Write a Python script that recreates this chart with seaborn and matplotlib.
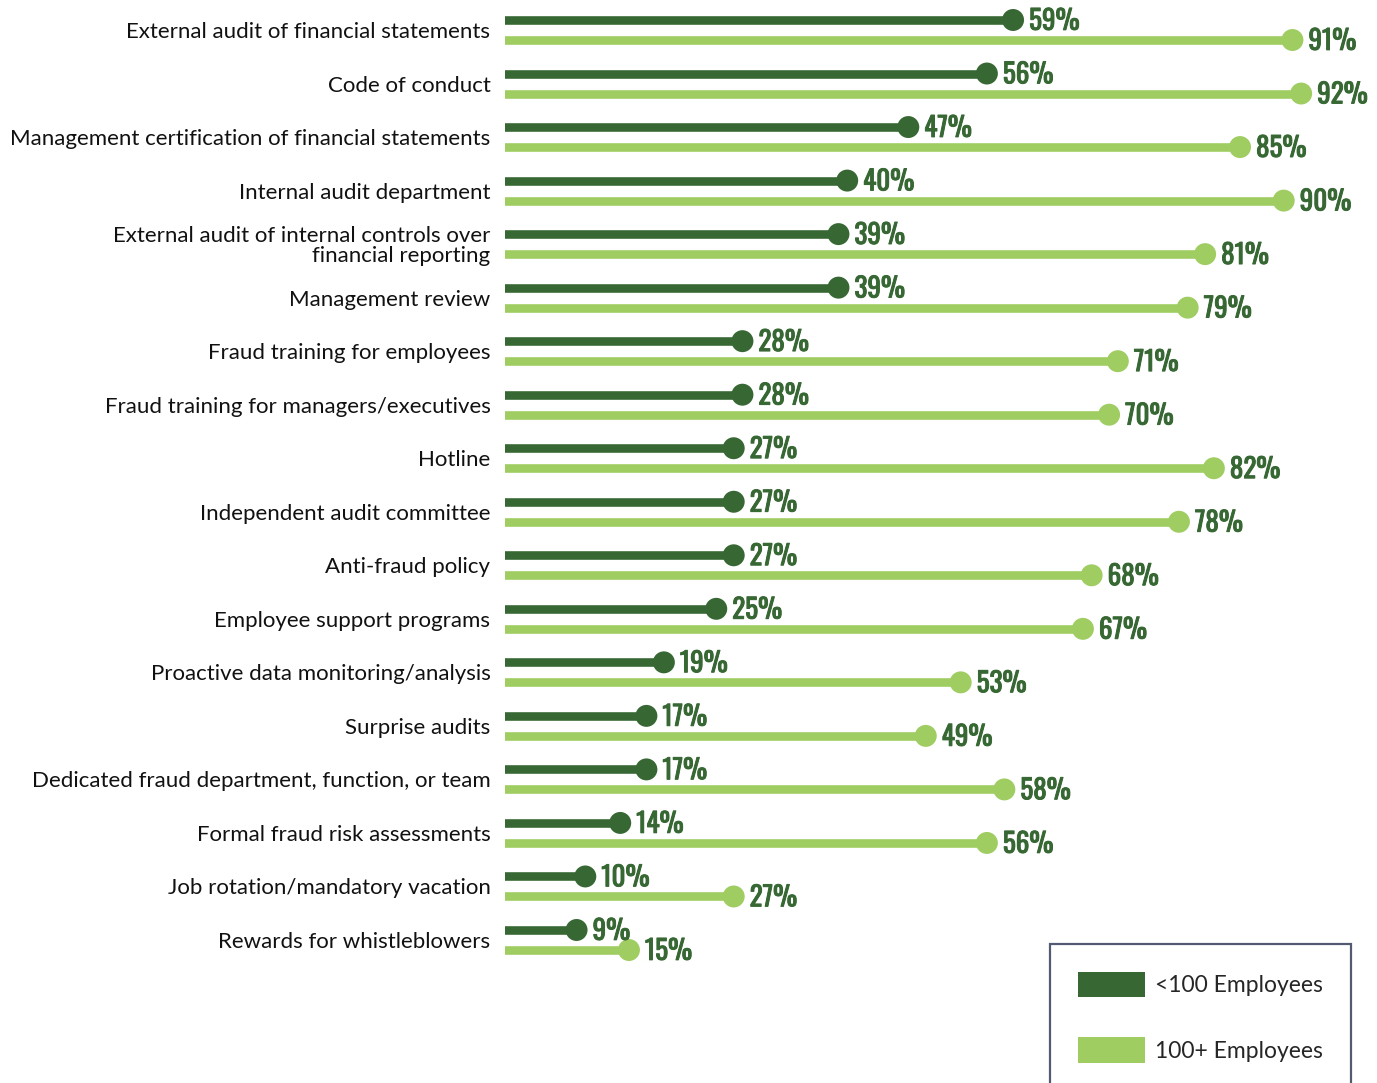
import matplotlib
matplotlib.use("Agg")
import matplotlib.pyplot as plt
import matplotlib.patheffects as pe
from matplotlib.patches import Patch
import seaborn as sns
import pandas as pd

categories = [
    "External audit of financial statements",
    "Code of conduct",
    "Management certification of financial statements",
    "Internal audit department",
    "External audit of internal controls over\nfinancial reporting",
    "Management review",
    "Fraud training for employees",
    "Fraud training for managers/executives",
    "Hotline",
    "Independent audit committee",
    "Anti-fraud policy",
    "Employee support programs",
    "Proactive data monitoring/analysis",
    "Surprise audits",
    "Dedicated fraud department, function, or team",
    "Formal fraud risk assessments",
    "Job rotation/mandatory vacation",
    "Rewards for whistleblowers",
]
small = [59, 56, 47, 40, 39, 39, 28, 28, 27, 27, 27, 25, 19, 17, 17, 14, 10, 9]
large = [91, 92, 85, 90, 81, 79, 71, 70, 82, 78, 68, 67, 53, 49, 58, 56, 27, 15]
series = ["<100 Employees", "100+ Employees"]

DARK = "#376834"
LIGHT = "#9fcd62"
LABEL_COLOR = "#376834"

sns.set_theme(style="white")
plt.rcParams["font.family"] = ["Lato", "DejaVu Sans"]

W, H = 1377, 1083
fig = plt.figure(figsize=(W / 100, H / 100), dpi=100)
ax = fig.add_axes([505 / W, 0, (W - 505) / W, 1])

n = len(categories)
off = 0.187
rows = []
for i, c in enumerate(categories):
    rows.append({"cat": c, "pos": i - off, "value": small[i], "group": series[0]})
    rows.append({"cat": c, "pos": i + off, "value": large[i], "group": series[1]})
df = pd.DataFrame(rows)

palette = {series[0]: DARK, series[1]: LIGHT}
for g in series:
    sub = df[df.group == g]
    ax.barh(sub["pos"], sub["value"], height=0.187, color=palette[g], left=0)

sns.scatterplot(data=df, x="value", y="pos", hue="group", palette=palette,
                s=250, linewidth=0, legend=False, ax=ax, zorder=3, clip_on=False)

for _, r in df.iterrows():
    ax.annotate(f"{r['value']}%", xy=(r["value"], r["pos"]), xytext=(11.5, -1),
                textcoords="offset points", ha="left", va="center",
                fontsize=19.5, fontweight="bold", color=LABEL_COLOR,
                family=["Oswald", "DejaVu Sans"],
                path_effects=[pe.withStroke(linewidth=0.7, foreground=LABEL_COLOR)])

px_per_unit = 53.53
ax.set_xlim((505 - 498) / 8.73, (W - 498) / 8.73)
ax.set_ylim(17 + (H - 940) / px_per_unit, -30 / px_per_unit)
ax.set_yticks(range(n))
ax.set_yticklabels(categories, fontsize=16, color="#111111", linespacing=1.0)
ax.tick_params(axis="y", length=0, pad=10.5)
ax.set_xticks([])
ax.set_xlabel("")
ax.set_ylabel("")
for s in ax.spines.values():
    s.set_visible(False)

handles = [Patch(facecolor=DARK, edgecolor="none"), Patch(facecolor=LIGHT, edgecolor="none")]
leg = fig.legend(handles, series, loc="upper left",
                 bbox_to_anchor=(1050 / W, 1 - 944 / H), fontsize=16.5,
                 frameon=True, fancybox=False, borderpad=1.2,
                 handlelength=2.95, handleheight=1.35, handletextpad=0.45,
                 labelspacing=1.75, borderaxespad=0)
leg.get_frame().set_edgecolor("#2b3150")
leg.get_frame().set_linewidth(1.6)

fig.savefig("out.png", dpi=100)
